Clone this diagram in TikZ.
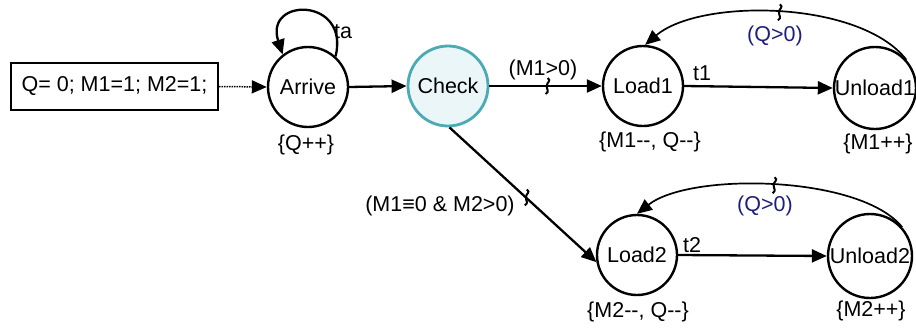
\documentclass[tikz,border=0pt]{standalone}
\usepackage{fontspec}
\setmainfont{Liberation Sans}
\usetikzlibrary{arrows.meta}
\definecolor{checkfill}{RGB}{234,246,247}
\definecolor{checkdraw}{RGB}{75,170,180}
\definecolor{navytext}{RGB}{30,30,125}
\begin{document}
\begin{tikzpicture}[x=1pt,y=-1pt,
  font=\fontsize{21.5}{24}\selectfont,
  state/.style={circle,draw,line width=2.4pt,minimum size=80pt,inner sep=0pt},
  checkstate/.style={state,fill=checkfill,draw=checkdraw,line width=2.8pt},
  initbox/.style={rectangle,draw,line width=2pt,minimum width=207pt,minimum height=47pt,inner sep=0pt},
  edge/.style={line width=2.3pt,-{Triangle[length=15pt,width=13pt]}},
  backarc/.style={line width=1.7pt,-{Triangle[length=15pt,width=13pt]}},
  initedge/.style={line width=1.5pt,dash pattern=on 1.5pt off 1pt,-{Triangle[length=15pt,width=13pt]}},
  squigline/.style={line width=2pt},
  lbl/.style={inner sep=0pt},
  guard/.style={inner sep=0pt,text=navytext}
]
\useasboundingbox (0,0) rectangle (916,327);

% states
\node[initbox] (init) at (114.5,86.5) {Q= 0; M1=1; M2=1;};
\node[state] (A) at (308,87) {\makebox[0pt]{Arrive}};
\node[checkstate] (C) at (448,86) {\makebox[0pt]{Check}};
\node[state] (L1) at (643,86) {\makebox[0pt]{Load1}};
\node[state,minimum size=82pt] (U1) at (875,88) {\makebox[0pt]{Unload1}};
\node[state] (L2) at (637,255) {\makebox[0pt]{Load2}};
\node[state,minimum size=84pt] (U2) at (870,256) {\makebox[0pt]{Unload2}};

% connectors
\draw[initedge] (init.east) -- (A.west);
\draw[edge] (A.48) .. controls (350,-3) and (264,-3) .. (A.128);
\draw[edge] (A.east) -- (C.west);
\draw[edge] (C.east) -- coordinate[pos=0.51] (s1) (L1.west);
\draw[edge] (L1.east) -- (U1.west);
\draw[backarc] (U1.42) .. controls (860,0) and (700,-2) .. coordinate[pos=0.5] (s2) (L1.87);
\draw[edge] (C.272) -- coordinate[pos=0.52] (s3) (L2.190);
\draw[edge] (L2.east) -- (U2.west);
\draw[backarc] (U2.42) .. controls (860,175) and (690,172) .. coordinate[pos=0.5] (s4) (L2.north);

% guard squiggles
\foreach \s in {s1,s2,s3,s4}
  \draw[squigline] (\s) ++(1,-8) .. controls +(4,3) and +(0,-4) .. ++(-1,8)
                         .. controls +(0,4) and +(4,-3) .. ++(-1,8);

% labels
\node[lbl] (ta) at (343,32) {ta};
\node[lbl] (aq) at (306,145) {\{Q++\}};
\node[lbl] (g1) at (543,70) {(M1>0)};
\node[lbl] (t1) at (702,73) {t1};
\node[lbl] (a1) at (650,142) {\{M1-{}-, Q-{}-\}};
\node[lbl] (b1) at (878,144) {\{M1++\}};
\node[guard] (q1) at (775,36) {(Q>0)};
\node[lbl] (g2) at (440,206) {(M1≡0 \& M2>0)};
\node[lbl] (t2) at (692,245) {t2};
\node[guard] (q2) at (765,206) {(Q>0)};
\node[lbl] (a2) at (638,312) {\{M2-{}-, Q-{}-\}};
\node[lbl] (b2) at (871,311) {\{M2++\}};
\end{tikzpicture}
\end{document}
